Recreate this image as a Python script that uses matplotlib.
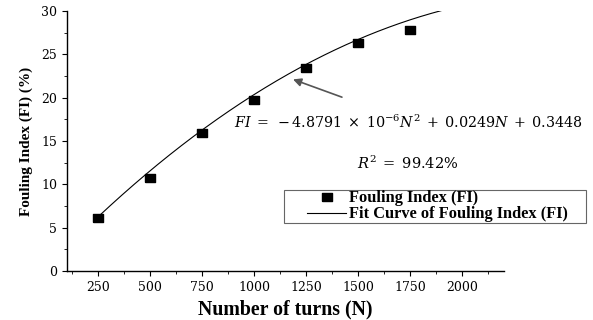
import numpy as np
import matplotlib
matplotlib.use("Agg")
import matplotlib.pyplot as plt
from matplotlib.ticker import MultipleLocator
from matplotlib.patches import Rectangle

plt.rcParams['font.family'] = ['Liberation Serif', 'DejaVu Serif']
plt.rcParams['mathtext.fontset'] = 'dejavuserif'

# Measured fouling index per number of turns
turns = [250, 500, 750, 1000, 1250, 1500, 1750]
fouling_index = [6.15, 10.76, 15.95, 19.7, 23.4, 26.3, 27.8]

# Quadratic fit coefficients
a2, a1, a0 = -4.8791e-6, 0.0249, 0.3448
fit_range = (250, 1960)

# slightly wide rectangular marker
wide_square = [(-1.35, -1), (1.35, -1), (1.35, 1), (-1.35, 1), (-1.35, -1)]

fig = plt.figure(figsize=(5.93, 3.2), dpi=100)
ax = fig.add_axes([0.113, 0.153, 0.737, 0.813])

N = np.linspace(fit_range[0], fit_range[1], 300)
FI = a2 * N**2 + a1 * N + a0
ax.plot(turns, fouling_index, linestyle='none', marker=wide_square,
        color='black', markersize=7.5, label='Fouling Index (FI)', zorder=3)
ax.plot(N, FI, '-', color='black', linewidth=0.8,
        label='Fit Curve of Fouling Index (FI)')

ax.set_xlim(100, 2200)
ax.set_ylim(0, 30)
ax.xaxis.set_minor_locator(MultipleLocator(125))
ax.yaxis.set_major_locator(MultipleLocator(5))
ax.yaxis.set_minor_locator(MultipleLocator(2.5))
ax.set_xticks([250, 500, 750, 1000, 1250, 1500, 1750, 2000])
for s in ('top', 'right'):
    ax.spines[s].set_visible(False)
for s in ('left', 'bottom'):
    ax.spines[s].set_linewidth(1.0)
ax.tick_params(which='major', direction='out', length=3.5, width=0.8, labelsize=9)
ax.tick_params(which='minor', direction='out', length=2, width=0.6)
for lbl in ax.get_xticklabels() + ax.get_yticklabels():
    lbl.set_family('DejaVu Serif')

ax.set_xlabel('Number of turns (N)', fontsize=14.3, fontweight='bold', labelpad=4)
ax.set_ylabel('Fouling Index (FI) (%)', fontsize=11, fontweight='bold', labelpad=6)

ax.annotate('', xy=(1186, 22.1), xytext=(1421, 20.05),
            arrowprops=dict(arrowstyle='-|>', color='#555555', lw=1.2,
                            mutation_scale=12, shrinkA=0, shrinkB=0))
ax.text(1740, 17.2,
        r'$FI\;=\;-4.8791\;\times\;10^{-6}N^{2}\;+\;0.0249N\;+\;0.3448$',
        ha='center', va='center', fontsize=10.3, clip_on=False)
ax.text(1739, 12.45, r'$R^{2}\;=\;99.42\%$', ha='center', va='center', fontsize=10.5)

# legend box extends past the right end of the axis
ax.add_patch(Rectangle((0.4966, 0.1846), 0.691, 0.1269, transform=ax.transAxes,
                       facecolor='white', edgecolor='#666666', linewidth=0.8,
                       clip_on=False, zorder=4))
leg = ax.legend(loc='upper left', bbox_to_anchor=(0.549, 0.3096), frameon=False,
                prop={'weight': 'bold', 'size': 11.8}, borderpad=0.0,
                labelspacing=0.0, handlelength=2.4, handletextpad=0.15,
                borderaxespad=0)
leg.set_zorder(5)

fig.savefig('out.png', dpi=100)
